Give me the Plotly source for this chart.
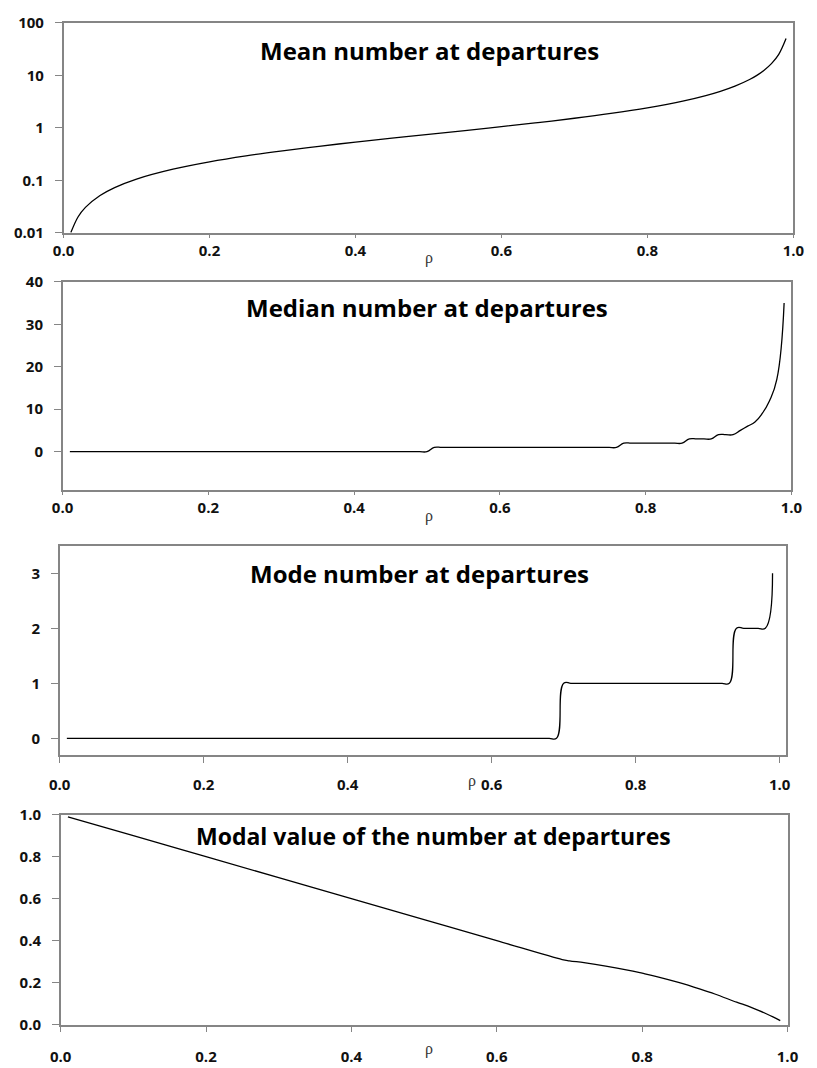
import plotly.graph_objects as go

# ---------------- data ----------------
rho = [0.01, 0.02, 0.03, 0.04, 0.05, 0.06, 0.07, 0.08, 0.09, 0.10,
       0.11, 0.12, 0.13, 0.14, 0.15, 0.16, 0.17, 0.18, 0.19, 0.20,
       0.21, 0.22, 0.23, 0.24, 0.25, 0.26, 0.27, 0.28, 0.29, 0.30,
       0.31, 0.32, 0.33, 0.34, 0.35, 0.36, 0.37, 0.38, 0.39, 0.40,
       0.41, 0.42, 0.43, 0.44, 0.45, 0.46, 0.47, 0.48, 0.49, 0.50,
       0.51, 0.52, 0.53, 0.54, 0.55, 0.56, 0.57, 0.58, 0.59, 0.60,
       0.61, 0.62, 0.63, 0.64, 0.65, 0.66, 0.67, 0.68, 0.69, 0.70,
       0.71, 0.72, 0.73, 0.74, 0.75, 0.76, 0.77, 0.78, 0.79, 0.80,
       0.81, 0.82, 0.83, 0.84, 0.85, 0.86, 0.87, 0.88, 0.89, 0.90,
       0.91, 0.92, 0.93, 0.94, 0.95, 0.96, 0.97, 0.98, 0.99]

median_number = [0, 0, 0, 0, 0, 0, 0, 0, 0, 0,
                 0, 0, 0, 0, 0, 0, 0, 0, 0, 0,
                 0, 0, 0, 0, 0, 0, 0, 0, 0, 0,
                 0, 0, 0, 0, 0, 0, 0, 0, 0, 0,
                 0, 0, 0, 0, 0, 0, 0, 0, 0, 0,
                 1, 1, 1, 1, 1, 1, 1, 1, 1, 1,
                 1, 1, 1, 1, 1, 1, 1, 1, 1, 1,
                 1, 1, 1, 1, 1, 1, 2, 2, 2, 2,
                 2, 2, 2, 2, 2, 3, 3, 3, 3, 4,
                 4, 4, 5, 6, 7, 9, 12, 17, 35]

mode_number = [0, 0, 0, 0, 0, 0, 0, 0, 0, 0,
               0, 0, 0, 0, 0, 0, 0, 0, 0, 0,
               0, 0, 0, 0, 0, 0, 0, 0, 0, 0,
               0, 0, 0, 0, 0, 0, 0, 0, 0, 0,
               0, 0, 0, 0, 0, 0, 0, 0, 0, 0,
               0, 0, 0, 0, 0, 0, 0, 0, 0, 0,
               0, 0, 0, 0, 0, 0, 0, 0, 0, 1,
               1, 1, 1, 1, 1, 1, 1, 1, 1, 1,
               1, 1, 1, 1, 1, 1, 1, 1, 1, 1,
               1, 1, 1, 2, 2, 2, 2, 2, 3]

rho_mean = [0.01, 0.02, 0.03, 0.05, 0.07, 0.10, 0.15, 0.20, 0.25, 0.30,
            0.35, 0.40, 0.45, 0.50, 0.55, 0.60, 0.65, 0.70, 0.75, 0.80,
            0.85, 0.88, 0.90, 0.92, 0.94, 0.95, 0.96, 0.97, 0.98, 0.99]
mean_number = [0.0101, 0.0202, 0.0305, 0.0513, 0.0726, 0.1056, 0.163, 0.225, 0.292, 0.364,
               0.444, 0.533, 0.634, 0.75, 0.886, 1.05, 1.254, 1.517, 1.875, 2.4,
               3.258, 4.107, 4.95, 6.21, 8.30, 9.975, 12.48, 16.65, 24.99, 50.0]

rho_modal = [0.01, 0.10, 0.20, 0.30, 0.40, 0.50, 0.60, 0.69, 0.70, 0.72,
             0.75, 0.78, 0.80, 0.82, 0.85, 0.88, 0.90, 0.93, 0.94, 0.95,
             0.96, 0.97, 0.98, 0.99]
modal_value = [0.99, 0.90, 0.80, 0.70, 0.60, 0.50, 0.40, 0.31, 0.304, 0.295,
               0.279, 0.260, 0.245, 0.229, 0.201, 0.169, 0.146, 0.107, 0.095, 0.082,
               0.068, 0.053, 0.037, 0.019]

titles = ["Mean number at departures", "Median number at departures",
          "Mode number at departures", "Modal value of the number at departures"]
x_tick_vals = [0.0, 0.2, 0.4, 0.6, 0.8, 1.0]
x_tick_text = ["0.0", "0.2", "0.4", "0.6", "0.8", "1.0"]
y1_ticks = [0.01, 0.1, 1, 10, 100]
y1_text = ["0.01", "0.1", "1", "10", "100"]
y2_ticks = [0, 10, 20, 30, 40]
y2_text = ["0", "10", "20", "30", "40"]
y3_ticks = [0, 1, 2, 3]
y3_text = ["0", "1", "2", "3"]
y4_ticks = [0.0, 0.2, 0.4, 0.6, 0.8, 1.0]
y4_text = ["0.0", "0.2", "0.4", "0.6", "0.8", "1.0"]

# ---------------- layout helpers ----------------
W, H = 817, 1068


def dx(a, b):
    return [a / W, b / W]


def dy(top, bot):
    return [1 - bot / H, 1 - top / H]


line_col = "#858585"
tick_font = dict(family="Open Sans", size=15, color="#111111", weight="bold")
common = dict(showline=True, mirror=True, linecolor=line_col, linewidth=1.6,
              ticks="outside", tickcolor=line_col, tickwidth=1.2,
              showgrid=False, zeroline=False, tickfont=tick_font)

fig = go.Figure()
curve = dict(color="black", width=1.3, shape="spline", smoothing=1.3)
fig.add_trace(go.Scatter(x=rho_mean, y=mean_number, mode="lines",
                         line=dict(curve, smoothing=1.0),
                         xaxis="x", yaxis="y", showlegend=False))
fig.add_trace(go.Scatter(x=rho, y=median_number, mode="lines", line=curve,
                         xaxis="x2", yaxis="y2", showlegend=False))
fig.add_trace(go.Scatter(x=rho, y=mode_number, mode="lines", line=curve,
                         xaxis="x3", yaxis="y3", showlegend=False))
fig.add_trace(go.Scatter(x=rho_modal, y=modal_value, mode="lines",
                         line=dict(curve, smoothing=1.0),
                         xaxis="x4", yaxis="y4", showlegend=False))

panels = [
    # x0, x1, top, bottom, xmax
    (54, 804, 12, 226, 1.0),
    (53, 802, 276, 488, 1.0),
    (50, 796, 545, 758, 1.0081),
    (51, 798, 819, 1033, 1.0),
]
x_ticklens = [3, 3, 6, 6]
standoffs = [0, 0, 9, 12]

lay = dict(width=W, height=H, autosize=False,
           margin=dict(l=0, r=0, t=0, b=0),
           paper_bgcolor="white", plot_bgcolor="white")

for i, (x0, x1, top, bot, xmax) in enumerate(panels):
    n = "" if i == 0 else str(i + 1)
    lay["xaxis" + n] = dict(common, domain=dx(x0, x1), range=[0, xmax],
                            anchor="y" + n, tickvals=x_tick_vals,
                            ticktext=x_tick_text, ticklen=x_ticklens[i],
                            ticklabelstandoff=standoffs[i])

pad = "\u00a0\u00a0"
ycommon = dict(common, ticklen=7)
lay["yaxis"] = dict(ycommon, domain=dy(*panels[0][2:4]), anchor="x", type="log",
                    range=[-2, 2], tickvals=y1_ticks,
                    ticktext=[t + pad for t in y1_text])
lay["yaxis2"] = dict(ycommon, domain=dy(*panels[1][2:4]), anchor="x2",
                     range=[-9, 40], tickvals=y2_ticks,
                     ticktext=[t + pad for t in y2_text])
lay["yaxis3"] = dict(ycommon, domain=dy(*panels[2][2:4]), anchor="x3",
                     range=[-0.3, 3.5], tickvals=y3_ticks,
                     ticktext=[t + pad for t in y3_text])
lay["yaxis4"] = dict(ycommon, domain=dy(*panels[3][2:4]), anchor="x4",
                     range=[0, 1.0], tickvals=y4_ticks,
                     ticktext=[t + pad for t in y4_text])

title_pos = [(430, 40), (427, 302), (420, 573), (434, 841)]
title_sizes = [24, 24, 24, 23]
rho_pos = [(430, 252), (430, 515), (474, 785), (430, 1058)]
annots = []
for (tx, ty), t, fs in zip(title_pos, titles, title_sizes):
    annots.append(dict(xref="paper", yref="paper", x=tx / W, y=1 - ty / H,
                       xanchor="center", yanchor="middle", showarrow=False,
                       text=t, font=dict(family="Open Sans", size=fs, color="black",
                                         weight="bold")))
for (rx, ry) in rho_pos:
    annots.append(dict(xref="paper", yref="paper", x=rx / W, y=1 - ry / H,
                       xanchor="center", yanchor="middle", showarrow=False,
                       text="ρ", font=dict(family="Liberation Serif", size=16,
                                           color="#333333")))
lay["annotations"] = annots

fig.update_layout(**lay)
fig.write_html("out.html")
